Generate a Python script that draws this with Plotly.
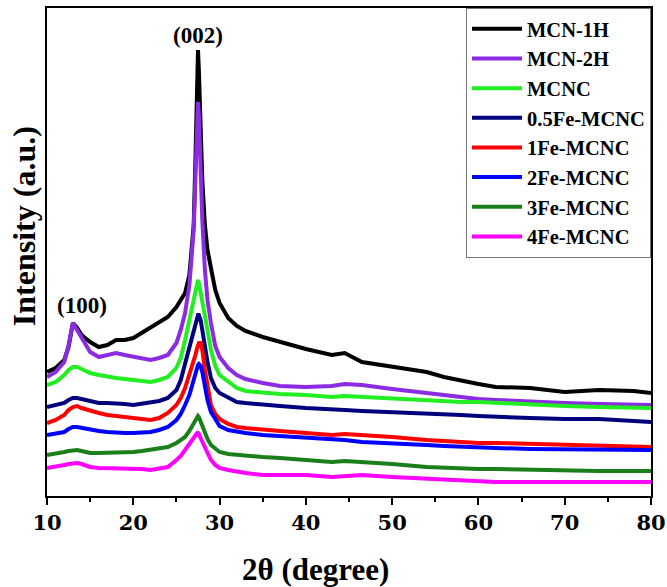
import plotly.graph_objects as go

two_theta = [10, 11, 12, 12.5, 13, 13.5, 14, 15, 16, 17, 18, 19, 20, 21, 22, 23, 24, 25, 25.5, 26,
             26.5, 27, 27.2, 27.4, 27.5, 27.6, 27.8, 28, 28.3, 28.6, 29, 29.5, 30, 31, 32, 33, 35, 37,
             40, 43, 44.5, 46.5, 50, 54, 56, 58, 60, 62, 66, 70, 74, 78, 80]

mcn_1h = [124, 128, 136, 149, 173, 168, 161, 154, 149, 151, 156, 156, 158, 163, 169, 174, 179, 189, 196, 203,
          221, 271, 336, 416, 446, 426, 366, 316, 271, 246, 228, 206, 193, 178, 170, 165, 159, 154,
          147, 141, 143, 134, 129, 124, 119, 115, 112, 109, 108, 104, 106, 105, 103]
mcn_2h = [119, 124, 134, 151, 173, 166, 159, 144, 139, 141, 143, 141, 139, 138, 136, 138, 141, 153, 166, 183,
          211, 266, 316, 376, 394, 381, 326, 276, 226, 196, 173, 150, 139, 128, 121, 117, 113, 110,
          109, 110, 112, 111, 107, 103, 100, 98, 97, 96, 94, 93, 92, 92, 91]
mcnc = [111, 114, 121, 126, 129, 129, 127, 123, 121, 119, 118, 117, 116, 115, 114, 116, 119, 128, 138, 156,
        174, 196, 204, 213, 216, 213, 204, 196, 183, 166, 146, 130, 121, 114, 108, 105, 103, 102,
        101, 99, 100, 99, 98, 96, 95, 94, 94, 93, 91, 90, 89, 89, 88]
fe05 = [89, 91, 93, 96, 98, 98, 97, 94, 93, 93, 93, 92, 91, 92, 93, 95, 98, 106, 116, 133,
        148, 166, 174, 180, 181, 181, 176, 166, 149, 134, 118, 108, 103, 98, 94, 93, 91, 90,
        88, 86, 86, 85, 84, 83, 82, 81, 80, 79, 78, 77, 77, 75, 74]
fe1 = [73, 76, 81, 86, 89, 90, 88, 85, 83, 81, 80, 79, 78, 77, 76, 78, 83, 91, 98, 108,
       121, 134, 141, 148, 151, 153, 153, 146, 126, 108, 91, 82, 77, 72, 69, 68, 66, 65,
       63, 61, 62, 61, 59, 56, 55, 54, 53, 53, 52, 51, 50, 50, 49]
fe2 = [61, 62, 64, 67, 69, 69, 68, 66, 65, 64, 63, 63, 63, 63, 64, 66, 69, 76, 82, 91,
       101, 116, 123, 129, 131, 132, 130, 124, 109, 96, 84, 76, 70, 66, 64, 63, 61, 60,
       58, 57, 56, 54, 53, 51, 50, 49, 49, 48, 47, 47, 46, 46, 46]
fe3 = [41, 42, 44, 45, 46, 46, 45, 43, 43, 43, 43, 44, 44, 45, 46, 47, 49, 53, 56, 59,
       65, 73, 76, 79, 80, 79, 74, 69, 63, 57, 51, 47, 44, 42, 41, 40, 39, 38,
       36, 34, 35, 34, 32, 29, 28, 27, 27, 27, 26, 25, 25, 25, 25]
fe4 = [28, 29, 31, 32, 33, 33, 32, 29, 28, 28, 28, 28, 28, 27, 26, 27, 29, 36, 40, 46,
       52, 59, 61, 63, 63, 62, 58, 54, 49, 44, 36, 31, 28, 26, 24, 23, 21, 21,
       21, 19, 20, 21, 19, 17, 16, 15, 14, 14, 14, 14, 14, 14, 14]

series_names = ["MCN-1H", "MCN-2H", "MCNC", "0.5Fe-MCNC", "1Fe-MCNC", "2Fe-MCNC", "3Fe-MCNC", "4Fe-MCNC"]
series_values = [mcn_1h, mcn_2h, mcnc, fe05, fe1, fe2, fe3, fe4]
series_colors = ["#000000", "#8B2BE2", "#22EE22", "#00007F", "#FF0000", "#0000FF", "#1A7F1A", "#FF00FF"]

x_ticks = [10, 20, 30, 40, 50, 60, 70, 80]
peak_labels = [("(002)", 27.5, 461), ("(100)", 14.0, 191)]

FONT = "Liberation Serif"

fig = go.Figure()
for name, vals, col in zip(series_names, series_values, series_colors):
    fig.add_trace(go.Scatter(x=two_theta, y=vals, mode="lines", name="<b>" + name + "</b>",
                             line=dict(color=col, width=4)))

for txt, xv, yv in peak_labels:
    fig.add_annotation(x=xv, y=yv, text="<b>" + txt + "</b>", showarrow=False,
                       font=dict(family=FONT, size=23, color="black"))

fig.add_annotation(xref="paper", yref="paper", x=-0.038, y=0.553, text="<b>Intensity (a.u.)</b>",
                   textangle=-90, showarrow=False, xanchor="center", yanchor="middle",
                   font=dict(family=FONT, size=32, color="black"))
fig.add_annotation(xref="paper", yref="paper", x=0.445, y=-0.15, text="<b>2θ (degree)</b>",
                   showarrow=False, xanchor="center", yanchor="middle",
                   font=dict(family=FONT, size=31, color="black"))

fig.update_layout(
    width=667, height=587,
    margin=dict(l=47, r=16, t=8, b=91),
    paper_bgcolor="white", plot_bgcolor="white",
    showlegend=True,
    legend=dict(x=1, y=1, xanchor="right", yanchor="top", bgcolor="white",
                bordercolor="#777777", borderwidth=1, itemwidth=50,
                font=dict(family=FONT, size=20.5, color="black"), tracegroupgap=0),
    xaxis=dict(range=[10, 80], tickvals=x_ticks, ticktext=[str(v) for v in x_ticks],
               ticks="outside", ticklen=7, tickwidth=2, tickcolor="black",
               showline=True, linewidth=2, linecolor="black", mirror=True,
               showgrid=False, zeroline=False, automargin=False,
               tickfont=dict(family="DejaVu Serif", size=21, color="black", weight="bold"),
               minor=dict(dtick=5, ticks="outside", ticklen=4, tickwidth=1.5, tickcolor="black")),
    yaxis=dict(range=[0, 488], showticklabels=False, ticks="",
               showline=True, linewidth=2, linecolor="black", mirror=True,
               showgrid=False, zeroline=False, automargin=False),
)

fig.write_html("out.html", config={"displayModeBar": False},
               post_script="document.body.style.margin='0';document.body.style.overflow='hidden';")
